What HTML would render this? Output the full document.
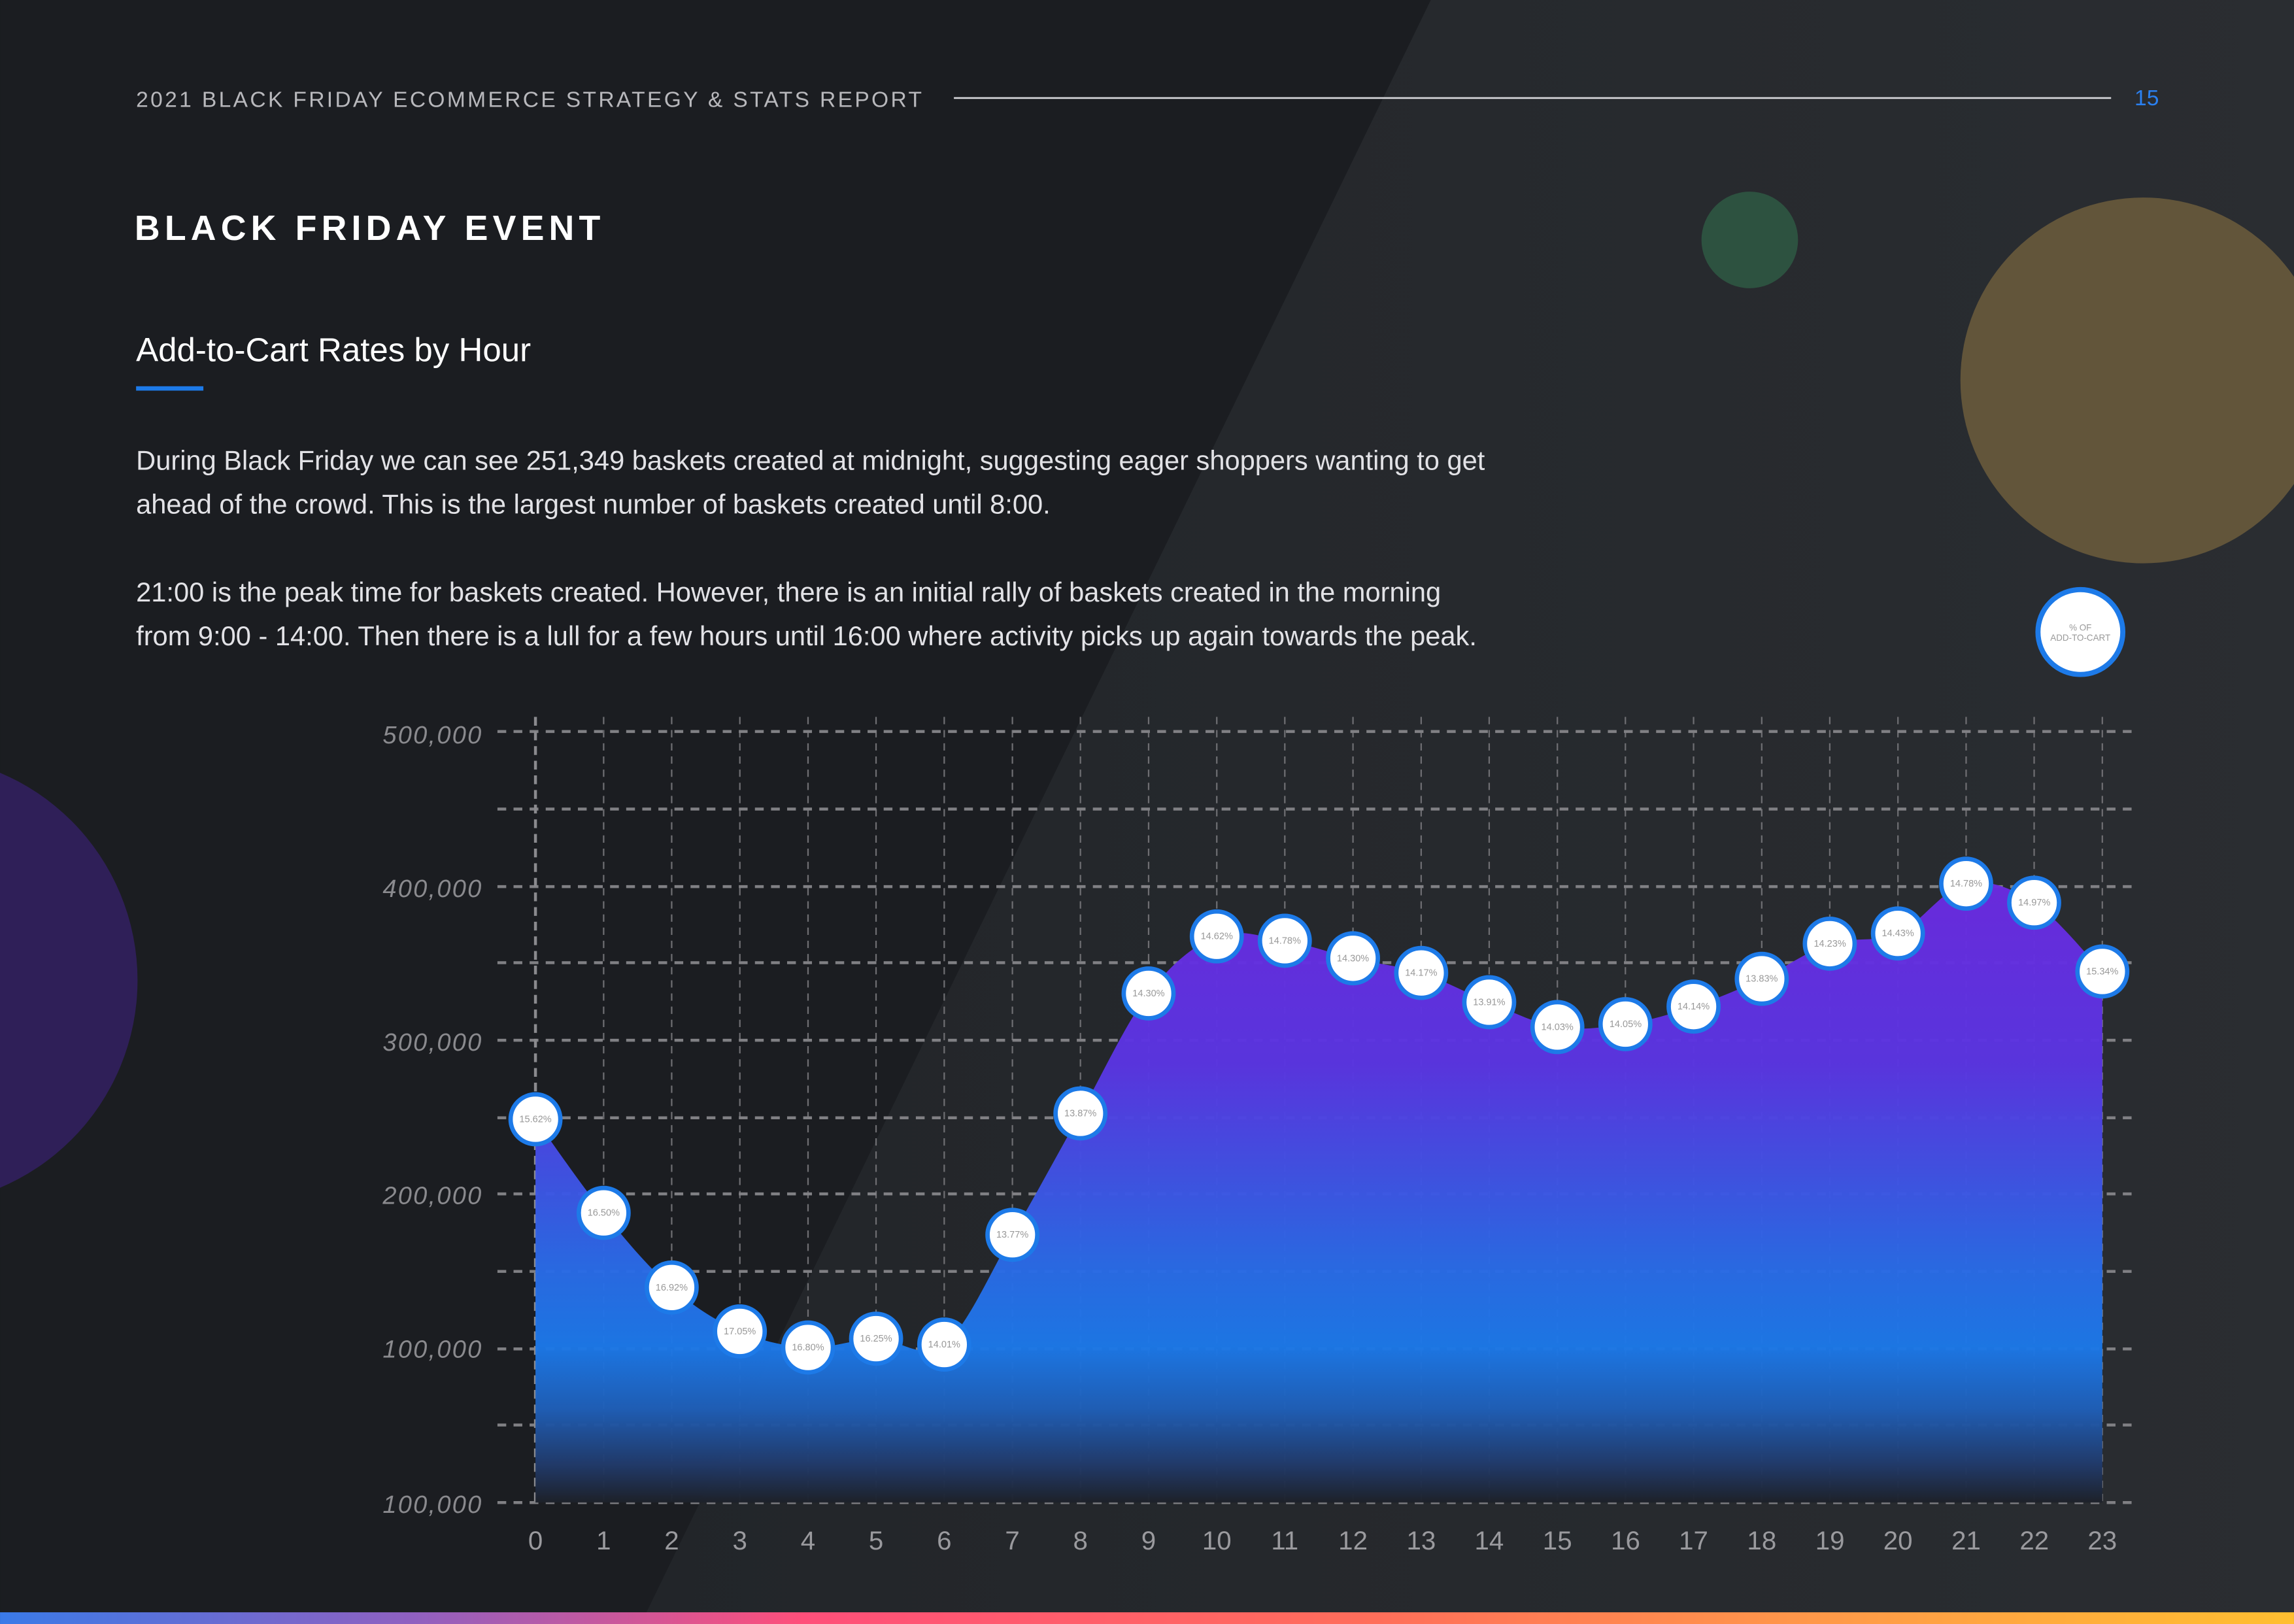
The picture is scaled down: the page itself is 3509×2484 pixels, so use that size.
<!DOCTYPE html>
<html><head><meta charset="utf-8"><style>
html,body{margin:0;padding:0;background:#1b1d21;}
svg{display:block;}
text{font-family:"Liberation Sans",sans-serif;}
</style></head><body>
<svg width="3509" height="2484" viewBox="0 0 1568 1110" xmlns="http://www.w3.org/2000/svg">
<defs>
<linearGradient id="bg2" x1="0" y1="0" x2="1" y2="0"><stop offset="0" stop-color="#222529"/><stop offset="1" stop-color="#2a2d31"/></linearGradient>
<linearGradient id="ag" gradientUnits="userSpaceOnUse" x1="0" y1="600" x2="0" y2="1027">
<stop offset="0" stop-color="#6b2ae0"/>
<stop offset="0.3" stop-color="#5a35e2"/>
<stop offset="0.62" stop-color="#2a6ae6"/>
<stop offset="0.75" stop-color="#1c78e8"/>
<stop offset="0.85" stop-color="#1f5fb8"/>
<stop offset="0.94" stop-color="#213a6a"/>
<stop offset="1" stop-color="#1d2129"/>
</linearGradient>
<linearGradient id="bar" x1="0" y1="0" x2="1" y2="0">
<stop offset="0" stop-color="#3a7ae8"/><stop offset="0.18" stop-color="#9060c0"/><stop offset="0.35" stop-color="#ff4f7a"/><stop offset="0.6" stop-color="#ff6e5a"/><stop offset="0.8" stop-color="#ff9a48"/><stop offset="1" stop-color="#ffbf30"/>
</linearGradient>
</defs>
<rect width="1568" height="1110" fill="#1b1d21"/>
<polygon points="978,0 1568,0 1568,1110 438,1110" fill="url(#bg2)"/>
<circle cx="-60" cy="670" r="154" fill="#2f1f58"/>
<circle cx="1196" cy="164" r="33" fill="#2d5240"/>
<circle cx="1465" cy="260" r="125" fill="#62553a"/>

<text x="93" y="73" font-size="15" fill="#b8b8bc" letter-spacing="1.5">2021 BLACK FRIDAY ECOMMERCE STRATEGY &amp; STATS REPORT</text>
<line x1="652" y1="67" x2="1443" y2="67" stroke="#d8d8dc" stroke-width="1.2"/>
<text x="1459" y="72" font-size="15" fill="#2a80f0">15</text>
<text x="92" y="164" font-size="24" font-weight="bold" fill="#ffffff" letter-spacing="3.2">BLACK FRIDAY EVENT</text>
<text x="93" y="247" font-size="22.8" fill="#ffffff">Add-to-Cart Rates by Hour</text>
<rect x="93" y="264" width="46" height="3" fill="#1d7ae8"/>
<g font-size="18.6" fill="#e2e2e6">
<text x="93" y="321">During Black Friday we can see 251,349 baskets created at midnight, suggesting eager shoppers wanting to get</text>
<text x="93" y="351">ahead of the crowd. This is the largest number of baskets created until 8:00.</text>
<text x="93" y="411">21:00 is the peak time for baskets created. However, there is an initial rally of baskets created in the morning</text>
<text x="93" y="441">from 9:00 - 14:00. Then there is a lull for a few hours until 16:00 where activity picks up again towards the peak.</text>
</g>
<circle cx="1422" cy="432" r="29" fill="#fff" stroke="#1d7ae8" stroke-width="3.5"/>
<text x="1422" y="431" font-size="6" fill="#999" text-anchor="middle">% OF</text>
<text x="1422" y="438" font-size="6" fill="#999" text-anchor="middle">ADD-TO-CART</text>

<g stroke="#6e6e72" stroke-width="1" stroke-dasharray="5,4">
<line x1="412.6" y1="490" x2="412.6" y2="1027"/><line x1="459.1" y1="490" x2="459.1" y2="1027"/><line x1="505.7" y1="490" x2="505.7" y2="1027"/><line x1="552.3" y1="490" x2="552.3" y2="1027"/><line x1="598.8" y1="490" x2="598.8" y2="1027"/><line x1="645.4" y1="490" x2="645.4" y2="1027"/><line x1="692" y1="490" x2="692" y2="1027"/><line x1="738.5" y1="490" x2="738.5" y2="1027"/><line x1="785.1" y1="490" x2="785.1" y2="1027"/><line x1="831.7" y1="490" x2="831.7" y2="1027"/><line x1="878.2" y1="490" x2="878.2" y2="1027"/><line x1="924.8" y1="490" x2="924.8" y2="1027"/><line x1="971.4" y1="490" x2="971.4" y2="1027"/><line x1="1017.9" y1="490" x2="1017.9" y2="1027"/><line x1="1064.5" y1="490" x2="1064.5" y2="1027"/><line x1="1111" y1="490" x2="1111" y2="1027"/><line x1="1157.6" y1="490" x2="1157.6" y2="1027"/><line x1="1204.2" y1="490" x2="1204.2" y2="1027"/><line x1="1250.7" y1="490" x2="1250.7" y2="1027"/><line x1="1297.3" y1="490" x2="1297.3" y2="1027"/><line x1="1343.9" y1="490" x2="1343.9" y2="1027"/><line x1="1390.4" y1="490" x2="1390.4" y2="1027"/><line x1="1437" y1="490" x2="1437" y2="1027"/>
</g>
<g stroke="#808084" stroke-width="2" stroke-dasharray="6,5">
<line x1="340" y1="500" x2="1460" y2="500"/><line x1="340" y1="553" x2="1460" y2="553"/><line x1="340" y1="606" x2="1460" y2="606"/><line x1="340" y1="658" x2="1460" y2="658"/><line x1="340" y1="711" x2="1460" y2="711"/><line x1="340" y1="764" x2="1460" y2="764"/><line x1="340" y1="816" x2="1460" y2="816"/><line x1="340" y1="869" x2="1460" y2="869"/><line x1="340" y1="922" x2="1460" y2="922"/><line x1="340" y1="974" x2="1460" y2="974"/><line x1="340" y1="1027" x2="1460" y2="1027"/>
</g>
<line x1="366" y1="490" x2="366" y2="1027" stroke="#8a8a8e" stroke-width="2" stroke-dasharray="6,4"/>
<path fill="url(#ag)" fill-opacity="0.97" d="M366,1027 L366,765 C373.8,775.7 397,809.8 412.6,829 C428.1,848.2 443.6,866.5 459.1,880 C474.7,893.5 490.2,903.2 505.7,910 C521.2,916.8 536.7,920.2 552.3,921 C567.8,921.8 583.3,915.3 598.8,915 C614.3,914.7 629.9,930.8 645.4,919 C660.9,907.2 676.4,870.3 692,844 C707.5,817.7 723,788.5 738.5,761 C754,733.5 769.6,699.2 785.1,679 C800.6,658.8 816.1,646 831.7,640 C847.2,634 862.7,640.5 878.2,643 C893.7,645.5 909.3,651.3 924.8,655 C940.3,658.7 955.8,660 971.4,665 C986.9,670 1002.4,678.8 1017.9,685 C1033.4,691.2 1049,699.5 1064.5,702 C1080,704.5 1095.5,702.3 1111,700 C1126.6,697.7 1142.1,693.2 1157.6,688 C1173.1,682.8 1188.7,676.2 1204.2,669 C1219.7,661.8 1235.2,650.2 1250.7,645 C1266.3,639.8 1281.8,644.8 1297.3,638 C1312.8,631.2 1328.3,607.5 1343.9,604 C1359.4,600.5 1374.9,607 1390.4,617 C1406,627 1429.2,656.2 1437,664 L1437,1027 Z"/>
<g fill="#fff" stroke="#1d7ae8" stroke-width="3">
<circle cx="366" cy="765" r="17"/><circle cx="412.6" cy="829" r="17"/><circle cx="459.1" cy="880" r="17"/><circle cx="505.7" cy="910" r="17"/><circle cx="552.3" cy="921" r="17"/><circle cx="598.8" cy="915" r="17"/><circle cx="645.4" cy="919" r="17"/><circle cx="692" cy="844" r="17"/><circle cx="738.5" cy="761" r="17"/><circle cx="785.1" cy="679" r="17"/><circle cx="831.7" cy="640" r="17"/><circle cx="878.2" cy="643" r="17"/><circle cx="924.8" cy="655" r="17"/><circle cx="971.4" cy="665" r="17"/><circle cx="1017.9" cy="685" r="17"/><circle cx="1064.5" cy="702" r="17"/><circle cx="1111" cy="700" r="17"/><circle cx="1157.6" cy="688" r="17"/><circle cx="1204.2" cy="669" r="17"/><circle cx="1250.7" cy="645" r="17"/><circle cx="1297.3" cy="638" r="17"/><circle cx="1343.9" cy="604" r="17"/><circle cx="1390.4" cy="617" r="17"/><circle cx="1437" cy="664" r="17"/>
</g>

<g font-size="17" fill="#8a8a8e" font-style="italic" text-anchor="end" letter-spacing="1">
<text x="330" y="508">500,000</text><text x="330" y="613">400,000</text><text x="330" y="718">300,000</text><text x="330" y="823">200,000</text><text x="330" y="928">100,000</text><text x="330" y="1034">100,000</text>
</g>
<g font-size="18" fill="#9a9a9e" text-anchor="middle">
<text x="366.0" y="1059">0</text><text x="412.6" y="1059">1</text><text x="459.1" y="1059">2</text><text x="505.7" y="1059">3</text><text x="552.3" y="1059">4</text><text x="598.8" y="1059">5</text><text x="645.4" y="1059">6</text><text x="692.0" y="1059">7</text><text x="738.5" y="1059">8</text><text x="785.1" y="1059">9</text><text x="831.7" y="1059">10</text><text x="878.2" y="1059">11</text><text x="924.8" y="1059">12</text><text x="971.4" y="1059">13</text><text x="1017.9" y="1059">14</text><text x="1064.5" y="1059">15</text><text x="1111.1" y="1059">16</text><text x="1157.6" y="1059">17</text><text x="1204.2" y="1059">18</text><text x="1250.8" y="1059">19</text><text x="1297.3" y="1059">20</text><text x="1343.9" y="1059">21</text><text x="1390.5" y="1059">22</text><text x="1437.0" y="1059">23</text>
</g>
<g font-size="6.5" fill="#999" text-anchor="middle">
<text x="366.0" y="767">15.62%</text><text x="412.6" y="831">16.50%</text><text x="459.1" y="882">16.92%</text><text x="505.7" y="912">17.05%</text><text x="552.3" y="923">16.80%</text><text x="598.8" y="917">16.25%</text><text x="645.4" y="921">14.01%</text><text x="692.0" y="846">13.77%</text><text x="738.5" y="763">13.87%</text><text x="785.1" y="681">14.30%</text><text x="831.7" y="642">14.62%</text><text x="878.2" y="645">14.78%</text><text x="924.8" y="657">14.30%</text><text x="971.4" y="667">14.17%</text><text x="1017.9" y="687">13.91%</text><text x="1064.5" y="704">14.03%</text><text x="1111.1" y="702">14.05%</text><text x="1157.6" y="690">14.14%</text><text x="1204.2" y="671">13.83%</text><text x="1250.8" y="647">14.23%</text><text x="1297.3" y="640">14.43%</text><text x="1343.9" y="606">14.78%</text><text x="1390.5" y="619">14.97%</text><text x="1437.0" y="666">15.34%</text>
</g>
<rect x="0" y="1102" width="1568" height="8" fill="url(#bar)"/>
</svg>
</body></html>
